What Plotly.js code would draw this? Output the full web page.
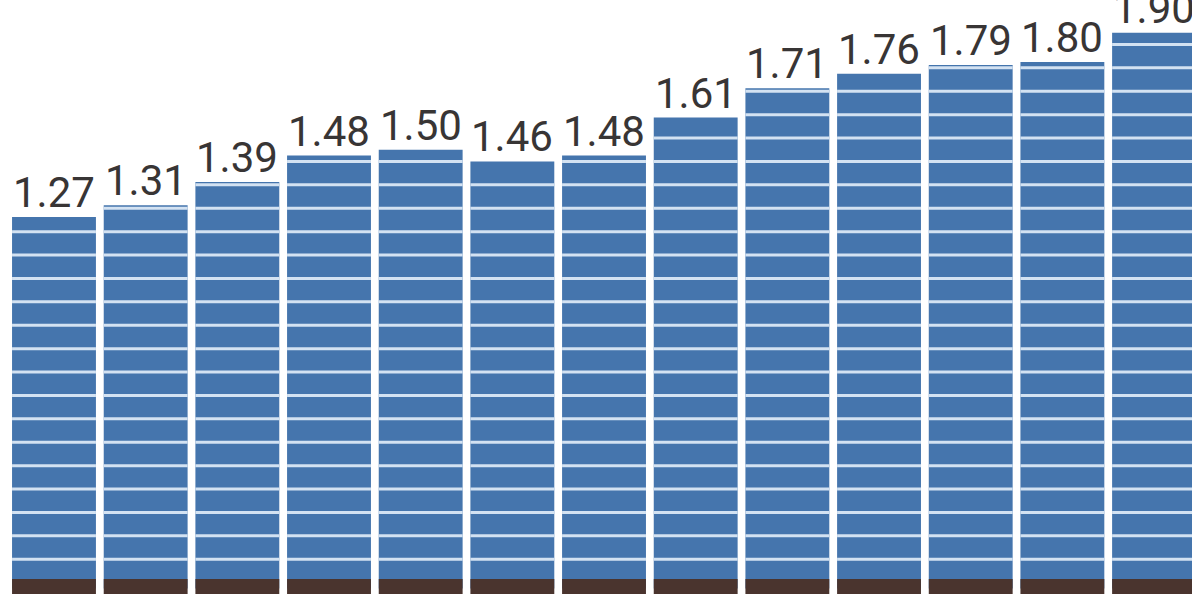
<!DOCTYPE html>
<html>
<head>
<meta charset="utf-8">
<script src="https://cdn.plot.ly/plotly-3.0.1.min.js"></script>
<style>html,body{margin:0;padding:0;background:#fff;}#chart{width:1192px;height:594px;}</style>
</head>
<body>
<div id="chart"></div>
<script>
// Data
const categories = [0,1,2,3,4,5,6,7,8,9,10,11,12];
const values = [1.27, 1.31, 1.39, 1.48, 1.50, 1.46, 1.48, 1.61, 1.71, 1.76, 1.79, 1.80, 1.90];
const labels = ["1.27","1.31","1.39","1.48","1.50","1.46","1.48","1.61","1.71","1.76","1.79","1.80","1.90"];

// Styling
const barColor = '#4575ad';
const stripeColor = '#d3e2f2';
const baseColor = '#4a342e';
const bargap = 0.085;
const halfW = (1 - bargap) / 2;
const stripeStart = 0.10, stripeStep = 0.08;
const baseTop = 0.0325, baseBottom = -0.05;

const traces = [
  {
    type: 'bar', x: categories, y: values,
    marker: {color: barColor, line: {width: 0}},
    hoverinfo: 'skip'
  },
  {
    type: 'bar', x: categories,
    y: categories.map(() => baseTop - baseBottom),
    base: categories.map(() => baseBottom),
    marker: {color: baseColor, line: {width: 0}},
    hoverinfo: 'skip'
  }
];

const shapes = [];
categories.forEach((c, i) => {
  for (let s = stripeStart; s < values[i] - 0.005; s += stripeStep) {
    shapes.push({
      type: 'line', xref: 'x', yref: 'y',
      x0: c - halfW, x1: c + halfW, y0: s, y1: s,
      line: {color: stripeColor, width: 3}, layer: 'above'
    });
  }
});

const annotations = categories.map((c, i) => ({
  x: c, y: values[i], xref: 'x', yref: 'y',
  text: labels[i], showarrow: false,
  yanchor: 'bottom', xanchor: 'center', yshift: -2,
  font: {family: 'Roboto, sans-serif', size: 42, color: '#383535'}
}));

const layout = {
  width: 1192, height: 594,
  margin: {l: 0, r: 0, t: 0, b: 0},
  paper_bgcolor: '#ffffff', plot_bgcolor: '#ffffff',
  barmode: 'overlay', bargap: bargap,
  showlegend: false,
  xaxis: {range: [-0.589, 12.414], visible: false, showgrid: false, zeroline: false},
  yaxis: {range: [-0.0188, 2.012], visible: false, showgrid: false, zeroline: false},
  shapes: shapes,
  annotations: annotations
};

Plotly.newPlot('chart', traces, layout, {displayModeBar: false, staticPlot: true});
</script>
</body>
</html>
